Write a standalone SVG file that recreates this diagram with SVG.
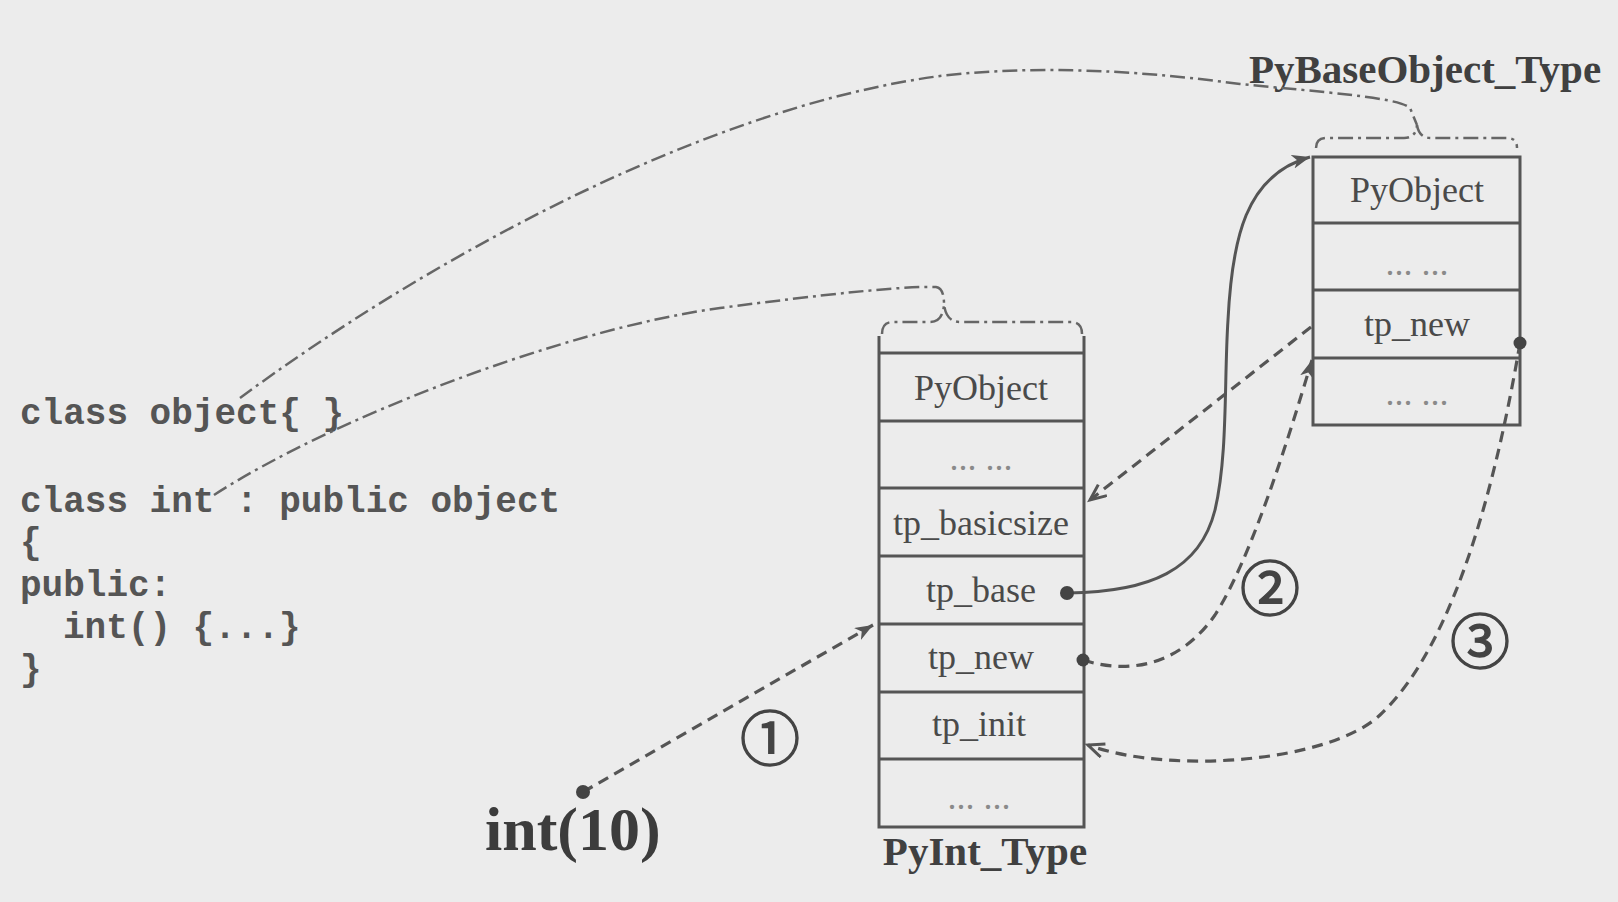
<svg xmlns="http://www.w3.org/2000/svg" width="1618" height="902" viewBox="0 0 1618 902">
<style>
.bg{fill:#ececec}
.box{fill:none;stroke:#555;stroke-width:3}
.row{stroke:#555;stroke-width:3}
.cell{font-family:"Liberation Serif","Times New Roman",serif;font-size:36px;fill:#4a4a4a;text-anchor:middle}
.dots{font-family:"Liberation Serif","Times New Roman",serif;font-size:36px;fill:#8a8a8a;text-anchor:middle}
.title{font-family:"Liberation Serif","Times New Roman",serif;font-size:41px;font-weight:bold;fill:#404040;text-anchor:middle}
.code{font-family:"Liberation Mono","Courier New",monospace;font-size:36px;font-weight:bold;fill:#555}
.big{font-family:"Liberation Serif","Times New Roman",serif;font-size:62px;font-weight:bold;fill:#3c3c3c}
.num{font-family:"Noto Sans CJK SC","DejaVu Sans",sans-serif;font-size:60px;fill:#444;stroke:#444;stroke-width:1.4;text-anchor:middle}
.dashdot{fill:none;stroke:#666;stroke-width:2.5;stroke-dasharray:15 5 3 5}
.dash{fill:none;stroke:#555;stroke-width:3.2;stroke-dasharray:11 7}
.solid{fill:none;stroke:#555;stroke-width:3}
.dot{fill:#444}
</style>
<defs>
<marker id="barb" markerUnits="userSpaceOnUse" markerWidth="22" markerHeight="16" refX="18" refY="7" orient="auto">
<path d="M0,0 L18,7 L0,14 L5,7 Z" fill="#555"/>
</marker>
<marker id="open" markerUnits="userSpaceOnUse" markerWidth="22" markerHeight="18" refX="17" refY="8" orient="auto">
<path d="M1,1 L17,8 L1,15" fill="none" stroke="#555" stroke-width="3"/>
</marker>
</defs>
<rect class="bg" x="0" y="0" width="1618" height="902"/>

<g id="code">
<text class="code" x="20" y="424">class object{ }</text>
<text class="code" x="20" y="512">class int : public object</text>
<text class="code" x="20" y="553">{</text>
<text class="code" x="20" y="596">public:</text>
<text class="code" x="63" y="638">int() {...}</text>
<text class="code" x="20" y="680">}</text>
</g>

<g id="pyint-type">
<path class="box" d="M879,336 L879,827 L1084,827 L1084,336"/>
<line class="row" x1="879" y1="353" x2="1084" y2="353"/>
<line class="row" x1="879" y1="421" x2="1084" y2="421"/>
<line class="row" x1="879" y1="488" x2="1084" y2="488"/>
<line class="row" x1="879" y1="556" x2="1084" y2="556"/>
<line class="row" x1="879" y1="624" x2="1084" y2="624"/>
<line class="row" x1="879" y1="692" x2="1084" y2="692"/>
<line class="row" x1="879" y1="759" x2="1084" y2="759"/>
<text class="cell" x="981" y="400">PyObject</text>
<text class="dots" x="981" y="470">... ...</text>
<text class="cell" x="981" y="535">tp_basicsize</text>
<text class="cell" x="981" y="602">tp_base</text>
<text class="cell" x="981" y="669">tp_new</text>
<text class="cell" x="979" y="736">tp_init</text>
<text class="dots" x="979" y="809">... ...</text>
<text class="title" x="985" y="865">PyInt_Type</text>
<path class="dashdot" d="M882,334 Q882,322 893,322 L930,322 Q943,322 944,304 Q946,322 960,322 L1071,322 Q1082,322 1082,334"/>
</g>

<g id="pybaseobject-type">
<rect class="box" x="1313" y="157" width="207" height="268"/>
<line class="row" x1="1313" y1="223" x2="1520" y2="223"/>
<line class="row" x1="1313" y1="290" x2="1520" y2="290"/>
<line class="row" x1="1313" y1="358" x2="1520" y2="358"/>
<text class="cell" x="1417" y="202">PyObject</text>
<text class="dots" x="1417" y="275">... ...</text>
<text class="cell" x="1417" y="336">tp_new</text>
<text class="dots" x="1417" y="405">... ...</text>
<text class="title" x="1425" y="83">PyBaseObject_Type</text>
<path class="dashdot" d="M1316,148 Q1316,138 1327,138 L1404,138 Q1416,138 1417,125 Q1419,138 1431,138 L1507,138 Q1517,138 1517,148"/>
</g>

<g id="int10">
<text class="big" x="485" y="850">int(10)</text>
</g>

<g id="labels">
<text class="num" x="770" y="761">①</text>
<text class="num" x="1270" y="611">②</text>
<text class="num" x="1480" y="664">③</text>
</g>

<g id="connectors">
<path class="dashdot" d="M240,398 C420,265 700,108 940,76 C1060,62 1180,76 1240,84 C1320,92 1398,97 1410,108 L1417,125"/>
<path class="dashdot" d="M214,495 C330,420 560,330 720,308 C820,295 900,286 936,287 Q944,288 944,304"/>
<path class="solid" marker-end="url(#barb)" d="M1068,593 C1150,592 1200,570 1215,510 C1228,455 1224,380 1228,320 C1232,240 1245,175 1310,157"/>
<path class="dash" marker-end="url(#open)" d="M1311,327 L1090,500"/>
<path class="dash" marker-end="url(#barb)" d="M1083,660 C1130,675 1180,665 1215,615 C1250,560 1285,450 1312,360"/>
<path class="dash" marker-end="url(#open)" d="M1520,343 C1500,460 1460,640 1380,715 C1330,762 1170,775 1088,745"/>
<path class="dash" marker-end="url(#barb)" d="M583,792 L873,625"/>
<circle class="dot" cx="583" cy="792" r="7"/>
<circle class="dot" cx="1067" cy="593" r="7"/>
<circle class="dot" cx="1083" cy="660" r="6.5"/>
<circle class="dot" cx="1520" cy="343" r="6.5"/>
</g>
</svg>
